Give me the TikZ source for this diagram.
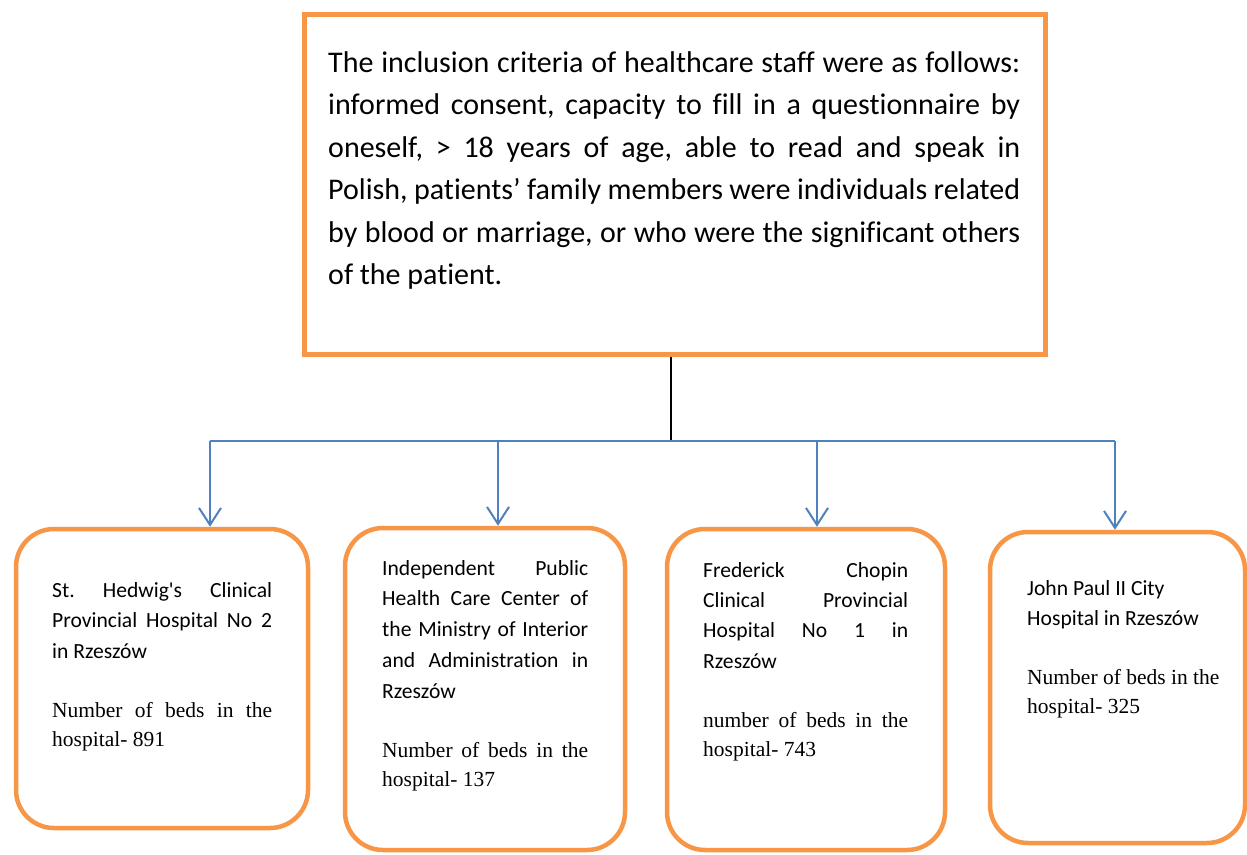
\documentclass[tikz,border=0pt]{standalone}
\usepackage{fontspec}
\setmainfont{Carlito}[Ligatures={TeXOff,CommonOff}]
\newfontfamily\bedsfont{Liberation Serif}
\usetikzlibrary{arrows.meta}
\definecolor{boxorange}{HTML}{F79646}
\definecolor{linkblue}{HTML}{4F81BD}
\newcommand{\beds}[1]{\par\vskip 29.5pt{\bedsfont\fontsize{21.5}{29.5}\selectfont #1\par}}
\frenchspacing

\begin{document}
\begin{tikzpicture}[x=1pt,y=-1pt,
		criteria/.style={draw=boxorange,line width=5pt,inner sep=0pt},
		hospital/.style={draw=boxorange,line width=4.5pt,rounded corners=38pt,inner sep=0pt},
		bodytext/.style={anchor=base west,inner sep=0pt,align=justify},
		link/.style={draw=linkblue,line width=2pt},
		drop/.style={link,-{Straight Barb[length=17pt,width=22pt]}}]
		\useasboundingbox (0,0) rectangle (1247,854);
		\node[criteria,minimum width=741pt,minimum height=340pt] (top) at (674.5,184) {};
		\node[bodytext,text width=692pt,font=\fontsize{30}{42.5}\selectfont] (toptext) at (328,72)
			{The inclusion criteria of healthcare staff were as follows:\linebreak
			informed consent, capacity to fill in a questionnaire by\linebreak
			oneself, > 18 years of age, able to read and speak in\linebreak
			Polish, patients’ family members were individuals related\linebreak
			by blood or marriage, or who were the significant others\linebreak
			of the patient.};
		\node[hospital,minimum width=292pt,minimum height=299pt] (box1) at (162,678.5) {};
		\node[hospital,minimum width=280pt,minimum height=322pt] (box2) at (485,689) {};
		\node[hospital,minimum width=278pt,minimum height=321pt] (box3) at (806,689.5) {};
		\node[hospital,minimum width=255pt,minimum height=311pt] (box4) at (1117.5,687.5) {};
		\node[bodytext,text width=220pt,font=\fontsize{21.6}{30.5}\selectfont] (text1) at (52,597)
			{St. Hedwig's Clinical\linebreak Provincial Hospital No 2\linebreak in Rzeszów
			\beds{Number of beds in the\linebreak hospital- 891}};
		\node[bodytext,text width=206pt,font=\fontsize{21.6}{30.75}\selectfont] (text2) at (382,575)
			{Independent Public\linebreak Health Care Center of\linebreak the Ministry of Interior\linebreak and Administration in\linebreak Rzeszów
			\beds{Number of beds in the\linebreak hospital- 137}};
		\node[bodytext,text width=205pt,font=\fontsize{21.6}{30.4}\selectfont] (text3) at (703,577)
			{Frederick Chopin\linebreak Clinical Provincial\linebreak Hospital No 1 in\linebreak Rzeszów
			\beds{number of beds in the\linebreak hospital- 743}};
		\node[bodytext,text width=196pt,font=\fontsize{21.6}{30}\selectfont] (text4) at (1027,595)
			{John Paul II City\hfil\break Hospital in Rzeszów
			\beds{Number of beds in the\hfil\break hospital- 325}};
		\coordinate (bus) at (671,441);
		\coordinate (d1) at (210,441);
		\coordinate (d2) at (498,441);
		\coordinate (d3) at (817,441);
		\coordinate (d4) at (1115,441);
		\draw[line width=2pt] (top.south -| bus) -- (bus);
		\draw[link] (d1) -- (d4);
		\foreach \i in {1,...,4}
			\draw[drop] (d\i) -- (d\i |- box\i.north);
	\end{tikzpicture}
\end{document}
